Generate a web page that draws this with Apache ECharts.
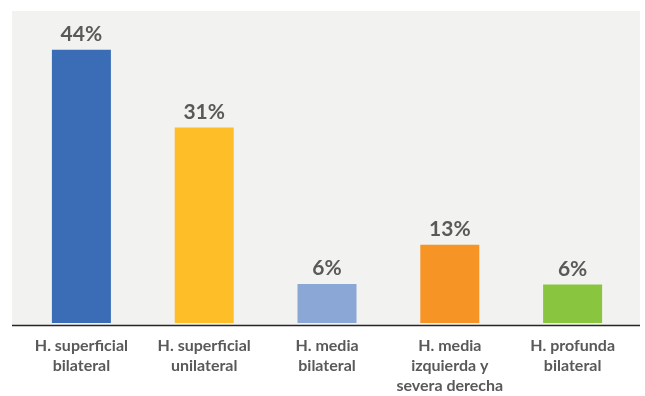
<!DOCTYPE html>
<html>
<head>
<meta charset="utf-8">
<script src="https://cdn.jsdelivr.net/npm/echarts@6/dist/echarts.min.js"></script>
<style>
  html, body { margin: 0; padding: 0; background: #fff; }
  #chart { width: 645px; height: 396px; }
</style>
</head>
<body>
<div id="chart"></div>
<script>
// categories and values
var categories = [
  'H. superficial\nbilateral',
  'H. superficial\nunilateral',
  'H. media\nbilateral',
  'H. media\nizquierda y\nsevera derecha',
  'H. profunda\nbilateral'
]
var values = [44, 31.5, 6.3, 12.6, 6.2]
var valueLabels = ['44%', '31%', '6%', '13%', '6%']
var barColors = ['#3a6db5', '#fdbe28', '#8aa7d6', '#f79426', '#8ac540']

var chart = echarts.init(document.getElementById('chart'))

chart.setOption({
  backgroundColor: '#ffffff',
  animation: false,
  graphic: [
    {
      type: 'rect',
      z: -10,
      shape: { x: 12, y: 11, width: 628, height: 315 },
      style: { fill: '#f2f2f0' }
    },
    {
      type: 'line',
      z: 10,
      shape: { x1: 12, y1: 325.5, x2: 640, y2: 325.5 },
      style: { stroke: '#262626', lineWidth: 1.5 }
    }
  ],
  grid: {
    left: 20,
    width: 614,
    top: 12.5,
    height: 313
  },
  xAxis: {
    type: 'category',
    data: categories,
    axisLine: { show: false },
    axisTick: { show: false },
    axisLabel: {
      interval: 0,
      margin: 13,
      color: '#595959',
      fontFamily: 'Lato',
      fontWeight: 'bold',
      fontSize: 16,
      lineHeight: 20
    }
  },
  yAxis: {
    type: 'value',
    min: 0,
    max: 50,
    show: false,
    splitLine: { show: false }
  },
  series: [{
    type: 'bar',
    barWidth: 59,
    data: values.map(function(v, i) {
      return { value: v, itemStyle: { color: barColors[i] } }
    }),
    label: {
      show: true,
      position: 'top',
      distance: 5,
      color: '#595959',
      fontFamily: 'Lato',
      fontWeight: 'bold',
      fontSize: 21,
      formatter: function(p) {
        return valueLabels[p.dataIndex]
      }
    }
  }]
})
</script>
</body>
</html>
